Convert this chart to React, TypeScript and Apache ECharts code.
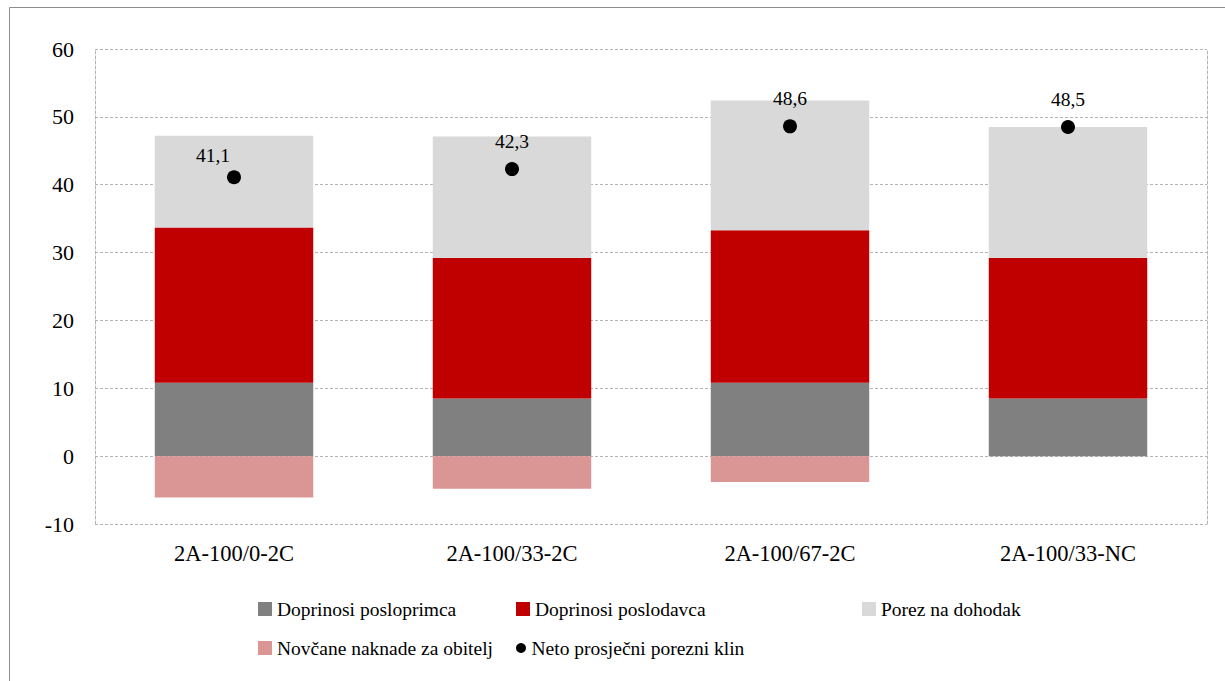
import React, { useEffect, useRef } from "react";
import * as echarts from "echarts";

const categories = ["2A-100/0-2C", "2A-100/33-2C", "2A-100/67-2C", "2A-100/33-NC"];
const employeeContrib = [10.8, 8.5, 10.8, 8.5];
const employerContrib = [22.9, 20.7, 22.5, 20.7];
const incomeTax = [13.5, 17.9, 19.1, 19.3];
const familyBenefits = [-6.1, -4.8, -3.8, 0];
const netTaxWedge = [41.1, 42.3, 48.6, 48.5];
const yTicks = { min: -10, max: 60, interval: 10 };

const names = [
  "Doprinosi posloprimca",
  "Doprinosi poslodavca",
  "Porez na dohodak",
  "Novčane naknade za obitelj",
  "Neto prosječni porezni klin",
];

const FONT = "Liberation Serif";
const GRID_COLOR = "#b4b4b4";

export default function App() {
  const ref = useRef<HTMLDivElement>(null);
  useEffect(() => {
    if (!ref.current) return;
    const chart = echarts.init(ref.current, null, { renderer: "svg" });
    const legendPos = [
      { left: 258, top: 599 },
      { left: 516, top: 599 },
      { left: 862, top: 599 },
      { left: 258, top: 638 },
      { left: 516, top: 638 },
    ];
    const legends = names.map((n, i) => ({
      data: [n],
      left: legendPos[i].left,
      top: legendPos[i].top,
      itemWidth: i === 4 ? 11 : 14,
      itemHeight: i === 4 ? 10 : 14,
      icon: i === 4 ? "circle" : "rect",
      padding: 0,
      itemStyle: { opacity: 1 },
      textStyle: { fontFamily: FONT, fontSize: 19.5, color: "#000" },
    }));
    const axisLineDashed = { show: true, lineStyle: { color: GRID_COLOR, type: [3, 2], width: 1 } };
    chart.setOption({
      animation: false,
      backgroundColor: "#fff",
      graphic: [
        {
          type: "rect",
          shape: { x: 9.5, y: 7.5, width: 1400, height: 800 },
          style: { fill: "none", stroke: "#8c8c8c", lineWidth: 1 },
          silent: true,
        },
      ],
      grid: { left: 95, right: 18, top: 49, bottom: 157 },
      legend: legends,
      xAxis: {
        type: "category",
        data: categories,
        axisLine: { show: false },
        axisTick: { show: false },
        axisLabel: { fontFamily: FONT, fontSize: 22.5, color: "#000", margin: 18 },
      },
      yAxis: [
        {
          type: "value",
          ...yTicks,
          axisLine: axisLineDashed,
          axisTick: { show: false },
          axisLabel: { fontFamily: FONT, fontSize: 22, color: "#000", margin: 21 },
          splitLine: { lineStyle: { color: GRID_COLOR, type: [3, 2], width: 1 } },
        },
        {
          type: "value",
          position: "right",
          ...yTicks,
          axisLine: axisLineDashed,
          axisTick: { show: false },
          axisLabel: { show: false },
          splitLine: { show: false },
        },
      ],
      series: [
        { name: names[0], type: "bar", stack: "a", barWidth: "57%", data: employeeContrib, itemStyle: { color: "#808080" } },
        { name: names[1], type: "bar", stack: "a", data: employerContrib, itemStyle: { color: "#C00000" } },
        { name: names[2], type: "bar", stack: "a", data: incomeTax, itemStyle: { color: "#D9D9D9" } },
        { name: names[3], type: "bar", stack: "a", data: familyBenefits, itemStyle: { color: "#DA9694" } },
        {
          name: names[4],
          type: "scatter",
          symbol: "circle",
          symbolSize: 14,
          itemStyle: { color: "#000", opacity: 1 },
          z: 5,
          label: {
            show: true,
            position: "top",
            distance: 11,
            fontFamily: FONT,
            fontSize: 19.5,
            color: "#000",
            opacity: 1,
            formatter: (p: any) => Number(p.value).toFixed(1).replace(".", ","),
          },
          data: netTaxWedge.map((v, i) =>
            i === 0 ? { value: v, label: { offset: [-21, 6] } } : v
          ),
        },
      ],
    });
    return () => chart.dispose();
  }, []);
  return (
    <div
      ref={ref}
      style={{ position: "absolute", left: 0, top: 0, width: 1225, height: 681 }}
    />
  );
}
